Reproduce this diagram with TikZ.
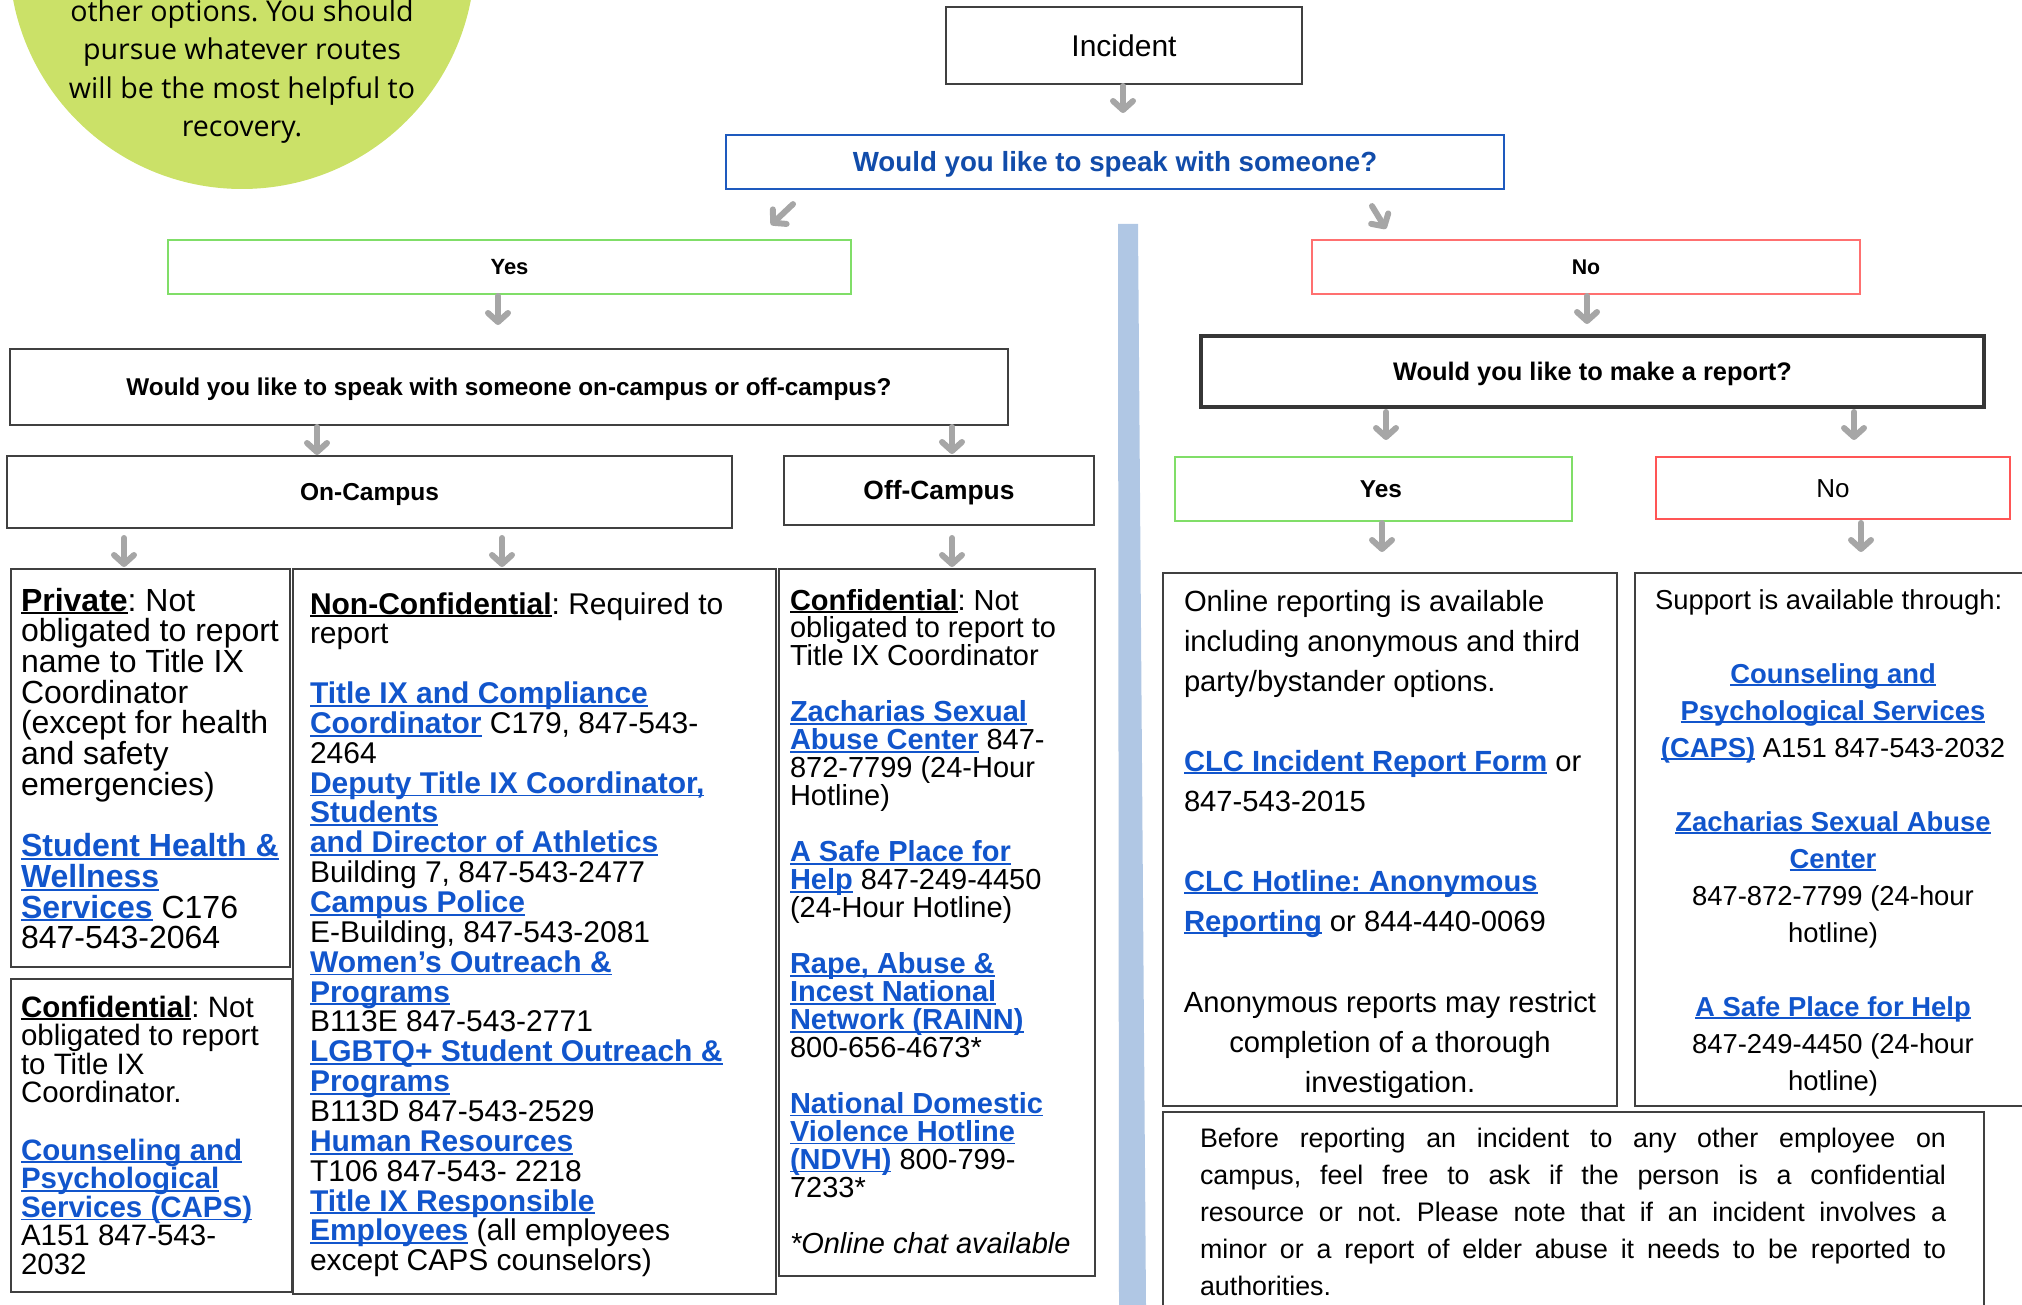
\documentclass[tikz,border=0pt]{standalone}
\usepackage{fontspec}
\setmainfont{Liberation Sans}
\newfontfamily\osans{Open Sans}
\usetikzlibrary{arrows.meta}
\definecolor{boxgray}{HTML}{404040}
\definecolor{arrowgray}{HTML}{A6A6A6}
\definecolor{yesgreen}{RGB}{128,222,104}
\definecolor{nored}{RGB}{255,112,112}
\definecolor{nored2}{RGB}{255,85,85}
\definecolor{qblue}{RGB}{30,90,190}
\definecolor{qtext}{RGB}{17,76,170}
\definecolor{linkblue}{HTML}{1155CC}
\definecolor{barblue}{RGB}{176,199,228}
\definecolor{circgreen}{RGB}{203,225,104}
\newsavebox\ulbox
\newcommand\myul[1]{\sbox{\ulbox}{#1}\leavevmode\rlap{\rule[-3.2pt]{\wd\ulbox}{1.8pt}}\usebox{\ulbox}}
\newcommand\lk[1]{\leavevmode{\color{linkblue}\bfseries\myul{#1}}}
\newcommand\hd[1]{\leavevmode{\bfseries\myul{#1}}}
\newcommand\fs[2]{\fontsize{#1}{#2}\selectfont}
\frenchspacing
\tikzset{
  frame/.style={draw=boxgray, line width=1.8pt, inner sep=0pt, outer sep=0pt, rectangle},
  txt/.style={anchor=base west, inner sep=0pt, outer sep=0pt},
  ctxt/.style={anchor=base, inner sep=0pt, outer sep=0pt},
  garrow/.style={draw=arrowgray, line width=6pt, line cap=round,
    -{Straight Barb[length=9pt,width=20pt,round]}},
}
\begin{document}
\begin{tikzpicture}[x=1pt,y=-1pt]
\useasboundingbox (0,0) rectangle (2022,1305);
\clip (0,0) rectangle (2022,1305);

% decorative bubble and divider
\node[circle, fill=circgreen, inner sep=0pt, minimum size=466pt] (bubble) at (242,-44) {};
\node[ctxt] (bubbletxt) at (242,21.5) {\parbox[t]{440pt}{\centering\osans\fs{28.6}{38.3}other options. You should\\ pursue whatever routes\\ will be the most helpful to\\ recovery.}};
\fill[barblue] (1118,224) -- (1138,224) -- (1146,1305) -- (1119,1305) -- cycle;

% top
\node[frame, line width=2.3pt, minimum width=356pt, minimum height=77pt, font=\fs{30}{36}, text height=21.5pt, text depth=0pt] (incident) at (1124,45.5) {Incident};
\node[frame, draw=qblue, line width=2.2pt, minimum width=778pt, minimum height=54pt, font=\fs{27.7}{33}\bfseries, text=qtext, text height=19.8pt, text depth=0pt] (speak) at (1115,162) {Would you like to speak with someone?};

% left branch
\node[frame, draw=yesgreen, line width=2pt, minimum width=683pt, minimum height=54pt, font=\fs{22}{26}\bfseries, text height=15.8pt, text depth=0pt] (yes1) at (509.5,267) {Yes};
\node[frame, minimum width=998pt, minimum height=76pt, font=\fs{24.3}{29}\bfseries, text height=17.4pt, text depth=0pt] (q2) at (509,387) {Would you like to speak with someone on-campus or off-campus?};
\node[frame, minimum width=725pt, minimum height=72pt, font=\fs{24.5}{29}\bfseries, text height=17.5pt, text depth=0pt] (on) at (369.5,492) {On-Campus};
\node[frame, line width=2.7pt, minimum width=310pt, minimum height=69pt, font=\fs{26.4}{31}\bfseries, text height=18.9pt, text depth=0pt] (off) at (939,490.5) {Off-Campus};

\node[frame, minimum width=279pt, minimum height=398pt] (private) at (150.5,768) {};
\node[frame, minimum width=281pt, minimum height=313pt] (conf1) at (151.5,1135.5) {};
\node[frame, minimum width=483pt, minimum height=725pt] (nonconf) at (534.5,931.5) {};
\node[frame, minimum width=316pt, minimum height=707pt] (offconf) at (937,922.5) {};

\node[txt] (privtxt) at (21,611) {\parbox[t]{400pt}{\raggedright\fs{32}{30.7}\hd{Private}: Not\\ obligated to report\\ name to Title IX\\ Coordinator\\ (except for health\\ and safety\\ emergencies)\\[30.7pt] \lk{Student Health \&}\\ \lk{Wellness}\\ \lk{Services} C176\\ 847-543-2064}};

\node[txt] (conf1txt) at (21,1017) {\parbox[t]{400pt}{\raggedright\fs{29.5}{28.6}\hd{Confidential}: Not\\ obligated to report\\ to Title IX\\ Coordinator.\\[28.6pt] \lk{Counseling and}\\ \lk{Psychological}\\ \lk{Services (CAPS)}\\ A151 847-543-\\ 2032}};

\node[txt] (nonconftxt) at (310,614) {\parbox[t]{500pt}{\raggedright\fs{30}{29.85}\hd{Non-Confidential}: Required to\\ report\\[29.85pt] \lk{Title IX and Compliance}\\ \lk{Coordinator} C179, 847-543-\\ 2464\\ \lk{Deputy Title IX Coordinator,}\\ \lk{Students}\\ \lk{and Director of Athletics}\\ Building 7, 847-543-2477\\ \lk{Campus Police}\\ E-Building, 847-543-2081\\ \lk{Women’s Outreach \&}\\ \lk{Programs}\\ B113E 847-543-2771\\ \lk{LGBTQ+ Student Outreach \&}\\ \lk{Programs}\\ B113D 847-543-2529\\ \lk{Human Resources}\\ T106 847-543- 2218\\ \lk{Title IX Responsible}\\ \lk{Employees} (all employees\\ except CAPS counselors)}};

\node[txt] (offconftxt) at (790,610) {\parbox[t]{400pt}{\raggedright\fs{29}{27.96}\hd{Confidential}: Not\\ obligated to report to\\ Title IX Coordinator\\[27.96pt] \lk{Zacharias Sexual}\\ \lk{Abuse Center} 847-\\ 872-7799 (24-Hour\\ Hotline)\\[27.96pt] \lk{A Safe Place for}\\ \lk{Help} 847-249-4450\\ (24-Hour Hotline)\\[27.96pt] \lk{Rape, Abuse \&}\\ \lk{Incest National}\\ \lk{Network (RAINN)}\\ 800-656-4673*\\[27.96pt] \lk{National Domestic}\\ \lk{Violence Hotline}\\ \lk{(NDVH)} 800-799-\\ 7233*\\[27.96pt] \textit{*Online chat available}}};

% right branch
\node[frame, draw=nored, line width=2pt, minimum width=548pt, minimum height=54pt, font=\fs{21.3}{26}\bfseries, text height=15.3pt, text depth=0pt] (no1) at (1586,267) {No};
\node[frame, line width=3.3pt, draw=boxgray!85!black, minimum width=783pt, minimum height=71pt, font=\fs{25.4}{30}\bfseries, text height=18.2pt, text depth=0pt] (report) at (1592.5,371.5) {Would you like to make a report?};
\node[frame, draw=yesgreen, line width=2pt, minimum width=397pt, minimum height=64pt, font=\fs{24.4}{29}\bfseries, text height=17.5pt, text depth=0pt] (yes2) at (1373.5,489) {\hspace*{15pt}Yes};
\node[frame, draw=nored2, line width=2.8pt, minimum width=354pt, minimum height=62pt, font=\fs{26}{31}, text height=18.6pt, text depth=0pt] (no2) at (1833,488) {No};

\node[frame, line width=2pt, minimum width=454pt, minimum height=533pt] (online) at (1390,839.5) {};
\node[frame, line width=2pt, minimum width=425pt, minimum height=533pt] (support) at (1847.5,839.5) {};
\node[frame, line width=2pt, minimum width=821pt, minimum height=208pt] (note) at (1573.5,1216) {};

\node[txt] (onlinetxt) at (1184,611) {\parbox[t]{440pt}{\raggedright\fs{29.2}{40}Online reporting is available\\ including anonymous and third\\ party/bystander options.\\[40pt] \lk{CLC Incident Report Form} or\\ 847-543-2015\\[40pt] \lk{CLC Hotline: Anonymous}\\ \lk{Reporting} or 844-440-0069}};
\node[ctxt] (onlinetxt2) at (1390,1012) {\parbox[t]{440pt}{\centering\fs{29.2}{40}Anonymous reports may restrict\\ completion of a thorough\\ investigation.}};

\node[txt] (supporttxt) at (1655,609) {\fs{27.4}{37}Support is available through:};
\node[ctxt] (supporttxt2) at (1833,683) {\parbox[t]{420pt}{\centering\fs{27.4}{37}\lk{Counseling and}\\ \lk{Psychological Services}\\ \lk{(CAPS)} A151 847-543-2032\\[37pt] \lk{Zacharias Sexual Abuse}\\ \lk{Center}\\ 847-872-7799 (24-hour\\ hotline)\\[37pt] \lk{A Safe Place for Help}\\ 847-249-4450 (24-hour\\ hotline)}};

\node[txt] (notetxt) at (1200,1147) {\parbox[t]{746pt}{\fs{26.8}{37}\makebox[746pt][s]{Before reporting an incident to any other employee on}\\ \makebox[746pt][s]{campus, feel free to ask if the person is a confidential}\\ \makebox[746pt][s]{resource or not. Please note that if an incident involves a}\\ \makebox[746pt][s]{minor or a report of elder abuse it needs to be reported to}\\ authorities.}};

% connectors
\draw[garrow, shorten <=2pt, shorten >=22pt] ([xshift=-1pt]incident.south) -- ([xshift=8pt]speak.north);
\draw[garrow, shorten <=22pt, shorten >=22pt] ([xshift=-306pt]speak.south) -- ([xshift=245.5pt]yes1.north);
\draw[garrow, shorten <=20pt, shorten >=13pt] ([xshift=246.6pt]speak.south) -- ([xshift=-193.3pt]no1.north);
\draw[garrow, shorten <=2pt, shorten >=24pt] ([xshift=-11.5pt]yes1.south) -- ([xshift=-11pt]q2.north);
\draw[garrow, shorten <=2pt, shorten >=1pt] ([xshift=-192pt]q2.south) -- ([xshift=-52.5pt]on.north);
\draw[garrow, shorten <=2pt, shorten >=2pt] ([xshift=443pt]q2.south) -- ([xshift=13pt]off.north);
\draw[garrow, shorten <=10pt, shorten >=2pt] ([xshift=-245.5pt]on.south) -- ([xshift=-26.5pt]private.north);
\draw[garrow, shorten <=10pt, shorten >=2pt] ([xshift=132.5pt]on.south) -- ([xshift=-32.5pt]nonconf.north);
\draw[garrow, shorten <=13pt, shorten >=2pt] ([xshift=13pt]off.south) -- ([xshift=15pt]offconf.north);
\draw[garrow, shorten <=2pt, shorten >=12pt] ([xshift=1pt]no1.south) -- ([xshift=-5.5pt]report.north);
\draw[garrow, shorten <=5pt, shorten >=17pt] ([xshift=-206.5pt]report.south) -- ([xshift=12.5pt]yes2.north);
\draw[garrow, shorten <=5pt, shorten >=17pt] ([xshift=261.5pt]report.south) -- ([xshift=21pt]no2.north);
\draw[garrow, shorten <=2pt, shorten >=21pt] ([xshift=8.5pt]yes2.south) -- ([xshift=-8pt]online.north);
\draw[garrow, shorten <=4pt, shorten >=21pt] ([xshift=28pt]no2.south) -- ([xshift=13.5pt]support.north);
\end{tikzpicture}
\end{document}
